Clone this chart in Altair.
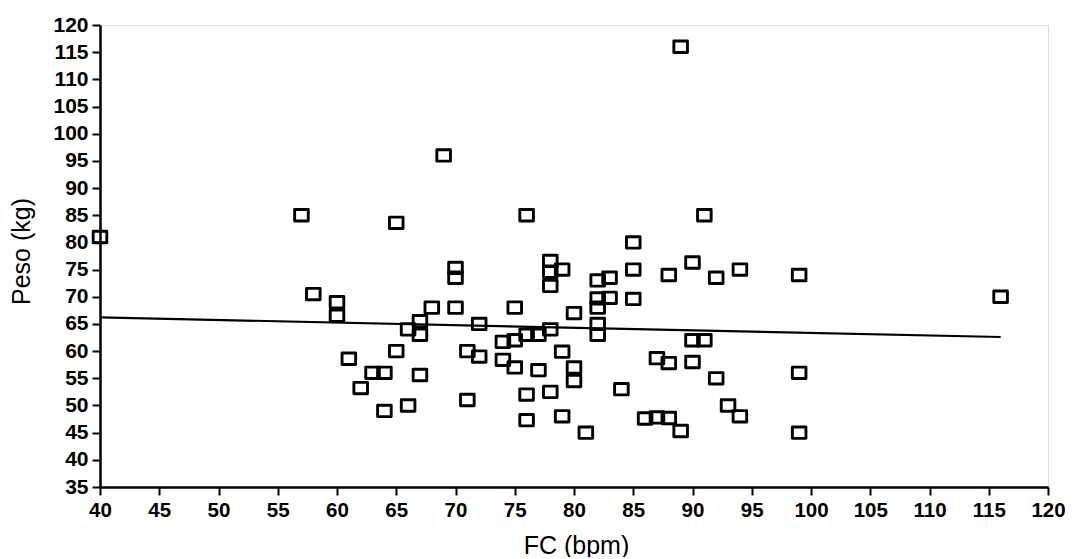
import altair as alt
import pandas as pd

fc = [40, 57, 58, 60, 60, 61, 62, 63, 64, 64, 65, 65, 66, 66, 67, 67, 67, 68, 69,
      70, 70, 70, 71, 71, 72, 72, 74, 74, 75, 75, 75, 76, 76, 76, 76, 77, 77,
      78, 78, 78, 78, 78, 79, 79, 79, 80, 80, 80, 81, 82, 82, 82, 82, 82, 83, 83,
      84, 85, 85, 85, 86, 87, 87, 88, 88, 88, 89, 89, 90, 90, 90, 91, 91, 92, 92,
      93, 94, 94, 99, 99, 99, 116]
peso = [81, 85, 70.5, 69, 66.5, 58.6, 53.2, 56, 56, 49, 83.6, 60, 64, 50, 65.5, 63, 55.6, 68, 96,
        75.3, 73.5, 68, 60, 51, 65, 59, 61.7, 58.4, 68, 62, 57, 85, 63, 52, 47.3, 63, 56.5,
        76.6, 74.6, 72, 64, 52.5, 75, 59.9, 48, 67, 57, 54.5, 45, 73, 69.7, 68, 65, 63, 73.5, 69.8,
        53, 80, 75, 69.6, 47.6, 58.7, 47.8, 74, 57.8, 47.7, 116, 45.3, 76.3, 62, 58, 85, 62, 73.5, 55,
        50, 75, 48, 74, 56, 45, 70]

# fitted regression line
fit_fc = [40, 116]
fit_peso = [66.2, 62.6]

x_ticks = list(range(40, 121, 5))
y_ticks = list(range(35, 121, 5))

df = pd.DataFrame({"FC": fc, "Peso": peso})
df_fit = pd.DataFrame({"FC": fit_fc, "Peso": fit_peso})

FONT = "Liberation Sans"

x_enc = alt.X("FC:Q", scale=alt.Scale(domain=[40, 120], nice=False, zero=False),
              axis=alt.Axis(values=x_ticks, title="FC (bpm)", grid=False,
                            labelFontSize=20.5, labelFontWeight="bold", labelFont=FONT,
                            labelColor="black", labelPadding=5, labelFlush=False,
                            labelOverlap=False,
                            tickSize=8, tickWidth=2, tickColor="black",
                            domainColor="black", domainWidth=2.5,
                            titleFont=FONT, titleFontSize=25, titleFontWeight="normal",
                            titleColor="black", titleX=476, titleY=58,
                            titleBaseline="middle", titleAlign="center"))
y_enc = alt.Y("Peso:Q", scale=alt.Scale(domain=[35, 120], nice=False, zero=False),
              axis=alt.Axis(values=y_ticks, title="Peso (kg)", grid=False,
                            labelFontSize=21, labelFontWeight="bold", labelFont=FONT,
                            labelColor="black", labelPadding=4, labelFlush=False,
                            labelOverlap=False,
                            tickSize=8, tickWidth=2, tickColor="black",
                            domainColor="black", domainWidth=2.5,
                            titleFont=FONT, titleFontSize=25, titleFontWeight="normal",
                            titleColor="black", titleX=-79, titleY=226,
                            titleBaseline="middle", titleAlign="center", titleAngle=-90))

points = alt.Chart(df).mark_point(
    shape="M-1,-0.84L1,-0.84L1,0.84L-1,0.84Z",
    size=185, filled=False, stroke="black", strokeWidth=2.9, strokeJoin="round",
    opacity=1
).encode(x=x_enc, y=y_enc)

line = alt.Chart(df_fit).mark_line(
    color="black", strokeWidth=2.2
).encode(x=x_enc, y=y_enc)

chart = alt.layer(line, points).properties(
    width=948, height=462, autosize="none",
    padding={"left": 92, "top": 17, "right": 17, "bottom": 70}
).configure_view(stroke=None).configure(background="white")

chart.save("out.html", embed_options={"renderer": "svg", "actions": False})
